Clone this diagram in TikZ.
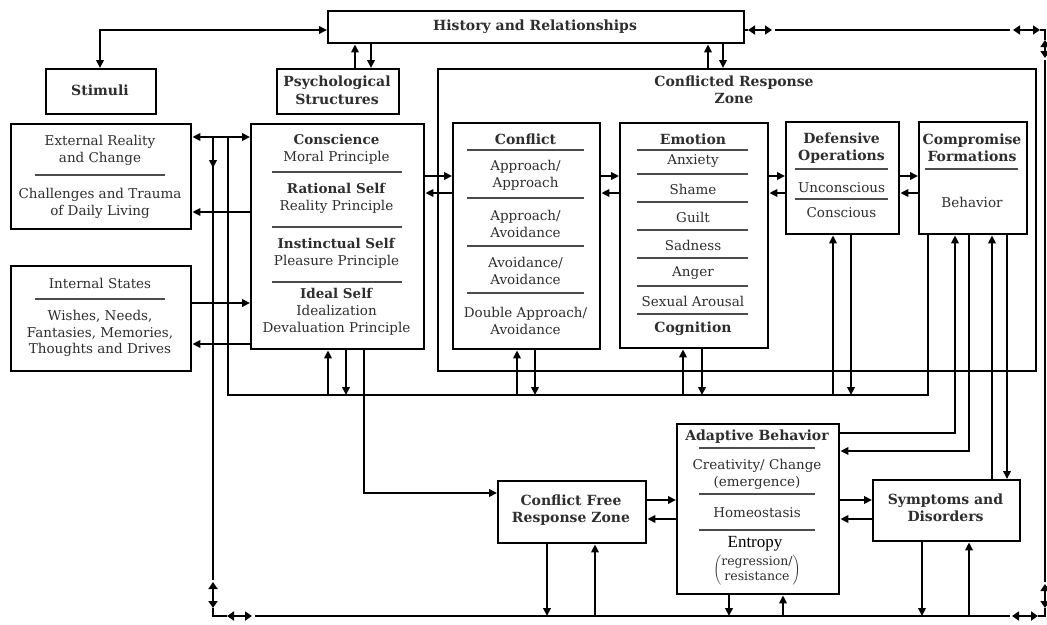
\documentclass[tikz,border=0pt]{standalone}
\usepackage{fontspec}
\setmainfont{DejaVu Serif}
\newfontfamily\entropyfont{Liberation Serif}
\usetikzlibrary{arrows.meta}

\begin{document}
\begin{tikzpicture}[x=1pt,y=-1pt,
  >={Triangle[length=8pt,width=7.5pt]},
  font=\fontsize{13.5}{17}\selectfont,
  box/.style={draw, line width=2.4pt, anchor=north west, inner sep=0pt},
  txt/.style={align=center, inner sep=0pt, text=black!82},
  hd/.style={txt, font=\fontsize{14}{17.5}\selectfont\bfseries},
  rule/.style={line width=1.5pt, draw=black!70},
  link/.style={line width=2.3pt},
  glyph/.style={line width=1.8pt,
    {Triangle[length=7pt,width=9pt]}-{Triangle[length=7pt,width=9pt]}}
]
\fill[white] (0,0) rectangle (1047,624);
\useasboundingbox (0,0) rectangle (1047,624);

% ---------- rows and columns used by the connectors ----------
\coordinate (loopY)  at (0,30);
\coordinate (jY)     at (0,137);
\coordinate (extY)   at (0,212);
\coordinate (inY)    at (0,303);
\coordinate (outY)   at (0,344);
\coordinate (fwdY)   at (0,176);
\coordinate (backY)  at (0,193);
\coordinate (busY)   at (0,395);
\coordinate (cfrY)   at (0,493);
\coordinate (abOutY) at (0,433);
\coordinate (abInY)  at (0,451);
\coordinate (lfY)    at (0,500);
\coordinate (lbY)    at (0,519);
\coordinate (botY)   at (0,616);

\coordinate (stimX)  at (100,0);
\coordinate (hsUp)   at (355,0);
\coordinate (hsDn)   at (371,0);
\coordinate (hzUp)   at (708,0);
\coordinate (hzDn)   at (723,0);
\coordinate (leftX)  at (213,0);
\coordinate (busX)   at (228,0);
\coordinate (psUp)   at (328,0);
\coordinate (psDn)   at (346,0);
\coordinate (psFree) at (364,0);
\coordinate (cUp)    at (517,0);
\coordinate (cDn)    at (535,0);
\coordinate (eUp)    at (683,0);
\coordinate (eDn)    at (702,0);
\coordinate (dUp)    at (833,0);
\coordinate (dDn)    at (851,0);
\coordinate (cfBus)  at (928,0);
\coordinate (cfA1)   at (955,0);
\coordinate (cfA2)   at (969,0);
\coordinate (cfS1)   at (992,0);
\coordinate (cfS2)   at (1007,0);
\coordinate (rightX) at (1045,0);
\coordinate (fDn)    at (547,0);
\coordinate (fUp)    at (595,0);
\coordinate (aDn)    at (729,0);
\coordinate (aUp)    at (783,0);
\coordinate (sDn)    at (922,0);
\coordinate (sUp)    at (969,0);

% ---------- boxes ----------
\node[box, minimum width=416pt, minimum height=32pt] (hist) at (327,10) {};
\node[hd] (histT) at (535,27) {History and Relationships};

\node[box, minimum width=110pt, minimum height=45pt] (stim) at (45,68) {};
\node[hd] (stimT) at (100,90) {Stimuli};

\node[box, minimum width=122pt, minimum height=45pt] (psy) at (276,68) {};
\node[hd] (psyT) at (337,90.5) {Psychological\\Structures};

% external reality
\node[box, minimum width=180pt, minimum height=105pt] (ext) at (10,123) {};
\node[txt] (ext1) at (100,150.5) {External Reality\\and Change};
\draw[rule] (35,175) -- (165,175);
\node[txt] (ext2) at (100,203) {Challenges and Trauma\\of Daily Living};

% internal states
\node[box, minimum width=180pt, minimum height=105pt] (int) at (10,265) {};
\node[txt] (int1) at (100,283) {Internal States};
\draw[rule] (35,299) -- (165,299);
\node[txt, font=\fontsize{13.5}{16.5}\selectfont] (int2) at (100,333.5) {Wishes, Needs,\\Fantasies, Memories,\\Thoughts and Drives};

% psychological structures
\node[box, minimum width=173pt, minimum height=225pt] (ps) at (250,123) {};
\node[txt] (ps1) at (336.5,149.5) {\textbf{Conscience}\\Moral Principle};
\draw[rule] (272,172) -- (402,172);
\node[txt] (ps2) at (336.5,198.5) {\textbf{Rational Self}\\Reality Principle};
\draw[rule] (272,227) -- (402,227);
\node[txt] (ps3) at (336.5,253.5) {\textbf{Instinctual Self}\\Pleasure Principle};
\draw[rule] (272,282) -- (402,282);
\node[txt] (ps4) at (336.5,311.5) {\textbf{Ideal Self}\\Idealization\\Devaluation Principle};

% conflicted response zone
\node[box, minimum width=598pt, minimum height=302pt] (zone) at (437,68) {};
\node[hd] (zoneT) at (734,90) {Conflicted Response\\Zone};

% conflict
\node[box, minimum width=147pt, minimum height=226pt] (conf) at (452,122) {};
\node[hd] (conf0) at (525.5,139) {Conflict};
\draw[rule] (467,150) -- (584,150);
\node[txt] (conf1) at (525.5,175.5) {Approach/\\Approach};
\draw[rule] (467,198) -- (584,198);
\node[txt] (conf2) at (525.5,223.5) {Approach/\\Avoidance};
\draw[rule] (467,246) -- (584,246);
\node[txt] (conf3) at (525.5,270.5) {Avoidance/\\Avoidance};
\draw[rule] (467,293) -- (584,293);
\node[txt] (conf4) at (525.5,320.5) {Double Approach/\\Avoidance};

% emotion
\node[box, minimum width=148pt, minimum height=225pt] (emo) at (619,122) {};
\node[hd] (emo0) at (693,139) {Emotion};
\draw[rule] (637,150) -- (748,150);
\node[txt] (emo1) at (693,161) {Anxiety};
\draw[rule] (637,174) -- (748,174);
\node[txt] (emo2) at (693,189) {Shame};
\draw[rule] (637,202) -- (748,202);
\node[txt] (emo3) at (693,217) {Guilt};
\draw[rule] (637,230) -- (748,230);
\node[txt] (emo4) at (693,245) {Sadness};
\draw[rule] (637,258) -- (748,258);
\node[txt] (emo5) at (693,273) {Anger};
\draw[rule] (637,286) -- (748,286);
\node[txt] (emo6) at (693,301) {Sexual Arousal};
\draw[rule] (637,314) -- (748,314);
\node[hd] (emo7) at (693,329) {Cognition};

% defensive operations
\node[box, minimum width=113pt, minimum height=112pt] (def) at (785,121) {};
\node[hd] (def0) at (841.5,148) {Defensive\\Operations};
\draw[rule] (795,169) -- (888,169);
\node[txt] (def1) at (841.5,188) {Unconscious};
\draw[rule] (795,199) -- (888,199);
\node[txt] (def2) at (841.5,213) {Conscious};

% compromise formations
\node[box, minimum width=108pt, minimum height=112pt] (cf) at (918,121) {};
\node[hd] (cf0) at (972,148) {Compromise\\Formations};
\draw[rule] (925,169) -- (1018,169);
\node[txt] (cf1) at (972,202) {Behavior};

% conflict free response zone
\node[box, minimum width=148pt, minimum height=62pt] (cfr) at (497,480) {};
\node[hd] (cfrT) at (571,510) {Conflict Free\\Response Zone};

% adaptive behavior
\node[box, minimum width=162pt, minimum height=170pt] (ab) at (676,423) {};
\node[hd] (ab0) at (757,437) {Adaptive Behavior};
\draw[rule] (699,448) -- (815,448);
\node[txt] (ab1) at (757,474) {Creativity/ Change\\(emergence)};
\draw[rule] (699,494) -- (815,494);
\node[txt] (ab2) at (757,513) {Homeostasis};
\draw[rule] (699,530) -- (815,530);
\node[txt, font=\entropyfont\fontsize{17}{18}\selectfont, text=black] (ab3) at (755,544) {Entropy};
\node[txt, font=\fontsize{12.5}{15.5}\selectfont] (ab4) at (757,570)
  {$\left(\begin{tabular}{@{}c@{}}regression/\\resistance\end{tabular}\right)$};

% symptoms and disorders
\node[box, minimum width=147pt, minimum height=61pt] (sym) at (872,479) {};
\node[hd] (symT) at (945.5,508) {Symptoms and\\Disorders};

% ---------- connectors ----------
% history, stimuli and psychological structures
\draw[link,<->] (hist.west |- loopY) -- (stimX |- loopY) -- (stimX |- stim.north);
\draw[link,->] (hsUp |- psy.north) -- (hsUp |- hist.south);
\draw[link,->] (hsDn |- hist.south) -- (hsDn |- psy.north);
\draw[link,->] (hzUp |- zone.north) -- (hzUp |- hist.south);
\draw[link,->] (hzDn |- hist.south) -- (hzDn |- zone.north);

% left junction
\coordinate (jL) at (leftX |- jY);
\coordinate (jR) at (busX |- jY);
\coordinate (jMid) at (213,168);
\draw[link,<->] (ext.east |- jY) -- (ps.west |- jY);
\draw[link,->] (ps.west |- extY) -- (ext.east |- extY);
\draw[link,->] (int.east |- inY) -- (ps.west |- inY);
\draw[link,->] (ps.west |- outY) -- (int.east |- outY);

% bus below the conflicted response zone
\coordinate (busL) at (busX |- busY);
\coordinate (busR) at (cfBus |- busY);
\draw[link] (jR) -- (busL) -- (busR) -- (cfBus |- cf.south);
\draw[link,->] (psUp |- busY) -- (psUp |- ps.south);
\draw[link,->] (psDn |- ps.south) -- (psDn |- busY);
\draw[link,->] (cUp |- busY) -- (cUp |- conf.south);
\draw[link,->] (cDn |- conf.south) -- (cDn |- busY);
\draw[link,->] (eUp |- busY) -- (eUp |- emo.south);
\draw[link,->] (eDn |- emo.south) -- (eDn |- busY);
\draw[link,->] (dUp |- busY) -- (dUp |- def.south);
\draw[link,->] (dDn |- def.south) -- (dDn |- busY);
\draw[link,->] (psFree |- ps.south) -- (psFree |- cfrY) -- (cfr.west |- cfrY);

% chain inside the zone
\draw[link,->] (ps.east |- fwdY) -- (conf.west |- fwdY);
\draw[link,->] (conf.west |- backY) -- (ps.east |- backY);
\draw[link,->] (conf.east |- fwdY) -- (emo.west |- fwdY);
\draw[link,->] (emo.west |- backY) -- (conf.east |- backY);
\draw[link,->] (emo.east |- fwdY) -- (def.west |- fwdY);
\draw[link,->] (def.west |- backY) -- (emo.east |- backY);
\draw[link,->] (def.east |- fwdY) -- (cf.west |- fwdY);
\draw[link,->] (cf.west |- backY) -- (def.east |- backY);

% compromise formations to adaptive behaviour and symptoms
\draw[link,->] (ab.east |- abOutY) -- (cfA1 |- abOutY) -- (cfA1 |- cf.south);
\draw[link,->] (cfA2 |- cf.south) -- (cfA2 |- abInY) -- (ab.east |- abInY);
\draw[link,->] (cfS1 |- sym.north) -- (cfS1 |- cf.south);
\draw[link,->] (cfS2 |- cf.south) -- (cfS2 |- sym.north);

% lower row
\draw[link,->] (cfr.east |- lfY) -- (ab.west |- lfY);
\draw[link,->] (ab.west |- lbY) -- (cfr.east |- lbY);
\draw[link,->] (ab.east |- lfY) -- (sym.west |- lfY);
\draw[link,->] (sym.west |- lbY) -- (ab.east |- lbY);
\draw[link,->] (fDn |- cfr.south) -- (fDn |- botY);
\draw[link,->] (fUp |- botY) -- (fUp |- cfr.south);
\draw[link,->] (aDn |- ab.south) -- (aDn |- botY);
\draw[link,->] (aUp |- botY) -- (aUp |- ab.south);
\draw[link,->] (sDn |- sym.south) -- (sDn |- botY);
\draw[link,->] (sUp |- botY) -- (sUp |- sym.south);

% outer loop with two-way marks
\coordinate (lv1) at (213,580);
\coordinate (lv2) at (213,582);
\coordinate (lv3) at (213,608);
\coordinate (cBL) at (leftX |- botY);
\coordinate (bh1) at (227,616);
\coordinate (bh2) at (252,616);
\coordinate (bh3) at (255,616);
\coordinate (bh4) at (1010,616);
\coordinate (bh5) at (1012,616);
\coordinate (bh6) at (1038,616);
\coordinate (cBR) at (rightX |- botY);
\coordinate (rv1) at (1045,608);
\coordinate (rv2) at (1045,584);
\coordinate (rv3) at (1045,582);
\coordinate (rv4) at (1045,60);
\coordinate (rv5) at (1045,58);
\coordinate (rv6) at (1045,40);
\coordinate (cTR) at (rightX |- loopY);
\coordinate (th1) at (1040,30);
\coordinate (th2) at (1013,30);
\coordinate (th3) at (1010,30);
\coordinate (th4) at (775,30);
\coordinate (th5) at (772,30);
\coordinate (th6) at (748,30);

\draw[link] (jL) -- (lv1);
\draw[link,->] (jL) -- (jMid);
\draw[glyph] (lv2) -- (lv3);
\draw[link] (lv3) -- (cBL) -- (bh1);
\draw[glyph] (bh1) -- (bh2);
\draw[link] (bh3) -- (bh4);
\draw[glyph] (bh5) -- (bh6);
\draw[link] (bh6) -- (cBR) -- (rv1);
\draw[glyph] (rv1) -- (rv2);
\draw[link] (rv3) -- (rv4);
\draw[glyph] (rv5) -- (rv6);
\draw[link] (rv6) -- (cTR) -- (th1);
\draw[glyph] (th1) -- (th2);
\draw[link] (th3) -- (th4);
\draw[glyph] (th5) -- (th6);
\draw[link] (th6) -- (hist.east |- loopY);
\end{tikzpicture}
\end{document}
